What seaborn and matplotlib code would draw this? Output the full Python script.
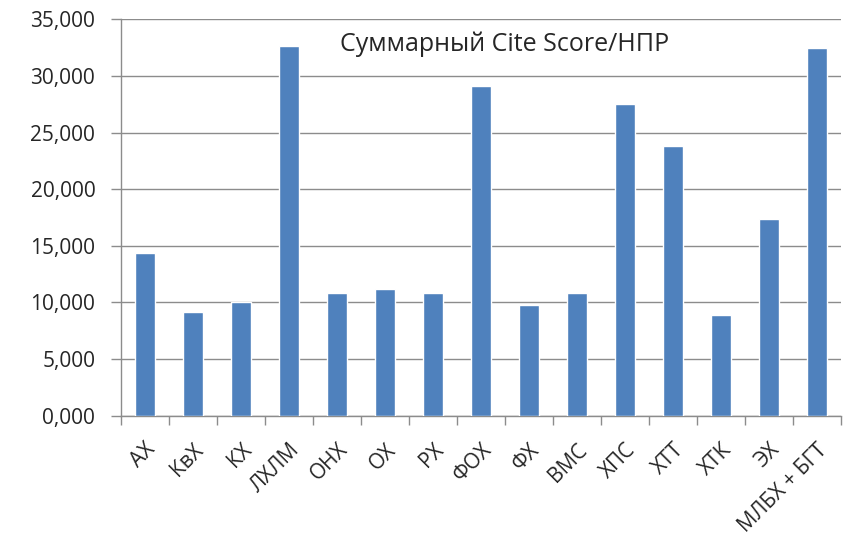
import matplotlib
matplotlib.use("Agg")
import matplotlib.pyplot as plt
import seaborn as sns
import pandas as pd
from matplotlib.ticker import FuncFormatter, FixedLocator

categories = ["АХ", "КвХ", "КХ", "ЛХЛМ", "ОНХ", "ОХ", "РХ", "ФОХ", "ФХ", "ВМС",
              "ХПС", "ХТТ", "ХТК", "ЭХ", "МЛБХ + БГТ"]
values = [14.40, 9.13, 10.07, 32.63, 10.87, 11.22, 10.87, 29.09, 9.81, 10.87,
          27.50, 23.79, 8.92, 17.40, 32.45]
title = "Суммарный Cite Score/НПР"

sns.set_theme(style="white")
plt.rcParams['font.family'] = ['Open Sans', 'DejaVu Sans']

df = pd.DataFrame({"cat": categories, "val": values})

fig = plt.figure(figsize=(8.43, 5.47), dpi=100)
ax = fig.add_axes([121/843, (547-415.7)/547, 720/843, 396.4/547])
sns.barplot(data=df, x="cat", y="val", color="#4F81BD", saturation=1,
            width=0.42, ax=ax, zorder=3)
ax.set_xlim(-0.5, len(categories) - 0.5)
ax.set_ylim(0, 35)
ax.set_yticks([0, 5, 10, 15, 20, 25, 30, 35])
ax.yaxis.set_major_formatter(FuncFormatter(lambda v, p: f"{v:.3f}".replace('.', ',')))
ax.grid(axis='y', color='#8c8c8c', linewidth=1, zorder=0)
ax.grid(axis='x', visible=False)
ax.set_xlabel("")
ax.set_ylabel("")
for s in ['top', 'right']:
    ax.spines[s].set_visible(False)
for s in ['left', 'bottom']:
    ax.spines[s].set_color('#8c8c8c')
    ax.spines[s].set_linewidth(1)

ax.set_xticks(range(len(categories)))
ax.set_xticklabels(categories, rotation=45, ha='right', rotation_mode='anchor',
                   fontsize=15, color='#262626')
ax.xaxis.set_minor_locator(FixedLocator([i - 0.5 for i in range(len(categories) + 1)]))
ax.tick_params(axis='x', which='major', length=0, pad=17)
ax.tick_params(axis='x', which='minor', length=6.5, color='#8c8c8c', width=1, bottom=True)
ax.tick_params(axis='y', which='major', length=7.5, color='#8c8c8c', width=1, left=True,
               labelsize=15, labelcolor='#262626', pad=11)

fig.text(505/843, 1 - 44/547, title, ha='center', va='center', fontsize=18, color='#262626')

fig.savefig("out.png", dpi=100, facecolor='white')
